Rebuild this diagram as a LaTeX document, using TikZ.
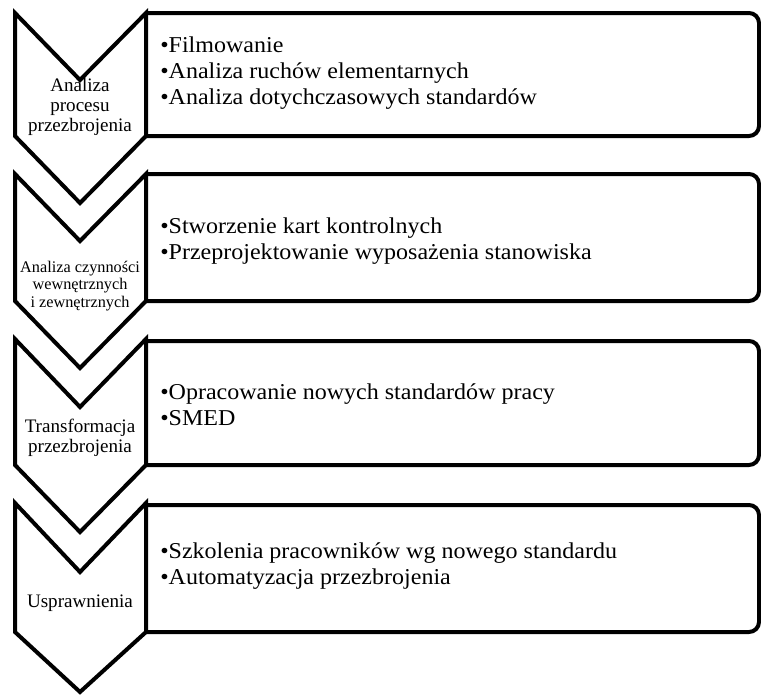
\documentclass[tikz,border=0pt]{standalone}
\usepackage{fontspec}
\setmainfont{Liberation Serif}
\newfontfamily\itemfont{Liberation Serif}[FakeStretch=1.06]
\newcommand{\blt}{\textbullet}

\begin{document}
\begin{tikzpicture}[
  x=0.75pt, y=-0.75pt,
  chevron/.style={draw, line width=3pt, miter limit=4},
  panel/.style={draw, line width=3pt, rounded corners=7.5pt},
  stage/.style={align=center, inner sep=0pt, font=\fontsize{14.3}{15.2}\selectfont},
  items/.style={align=left, inner sep=0pt, anchor=west, font=\itemfont\fontsize{17}{19.5}\selectfont}
  ]
	\useasboundingbox (0,0) rectangle (761,696);

	% stage 1
	\draw[chevron] (15,13) -- (80,80) -- (146,13) -- (146,136) -- (80,203) -- (15,136) -- cycle;
	\draw[panel] (146,13) -- (759,13) -- (759,136) -- (146,136);
	\node[stage] (analiza) at (80,107) {Analiza\\procesu\\przezbrojenia};
	\node[items] (list1) at (160,73) {\blt Filmowanie\\ \blt Analiza ruchów elementarnych\\ \blt Analiza dotychczasowych standardów};

	% stage 2
	\draw[chevron] (15,174) -- (80,241) -- (146,174) -- (146,301) -- (80,368) -- (15,301) -- cycle;
	\draw[panel] (146,174) -- (759,174) -- (759,301) -- (146,301);
	\node[stage, font=\fontsize{12.2}{13.2}\selectfont] (czynnosci) at (80,286) {Analiza czynności\\wewnętrznych\\i zewnętrznych};
	\node[items] (list2) at (160,241) {\blt Stworzenie kart kontrolnych\\ \blt Przeprojektowanie wyposażenia stanowiska};

	% stage 3
	\draw[chevron] (15,339) -- (80,407) -- (146,339) -- (146,465) -- (80,532) -- (15,465) -- cycle;
	\draw[panel] (146,341) -- (759,341) -- (759,465) -- (146,465);
	\node[stage] (transformacja) at (80,438) {Transformacja\\przezbrojenia};
	\node[items] (list3) at (160,405) {\blt Opracowanie nowych standardów pracy\\ \blt SMED};

	% stage 4
	\draw[chevron] (15,503) -- (80,572) -- (146,503) -- (146,632) -- (80,692) -- (15,632) -- cycle;
	\draw[panel] (146,505) -- (759,505) -- (759,632) -- (146,632);
	\node[stage] (usprawnienia) at (80,603) {Usprawnienia};
	\node[items] (list4) at (160,566) {\blt Szkolenia pracowników wg nowego standardu\\ \blt Automatyzacja przezbrojenia};
\end{tikzpicture}
\end{document}
